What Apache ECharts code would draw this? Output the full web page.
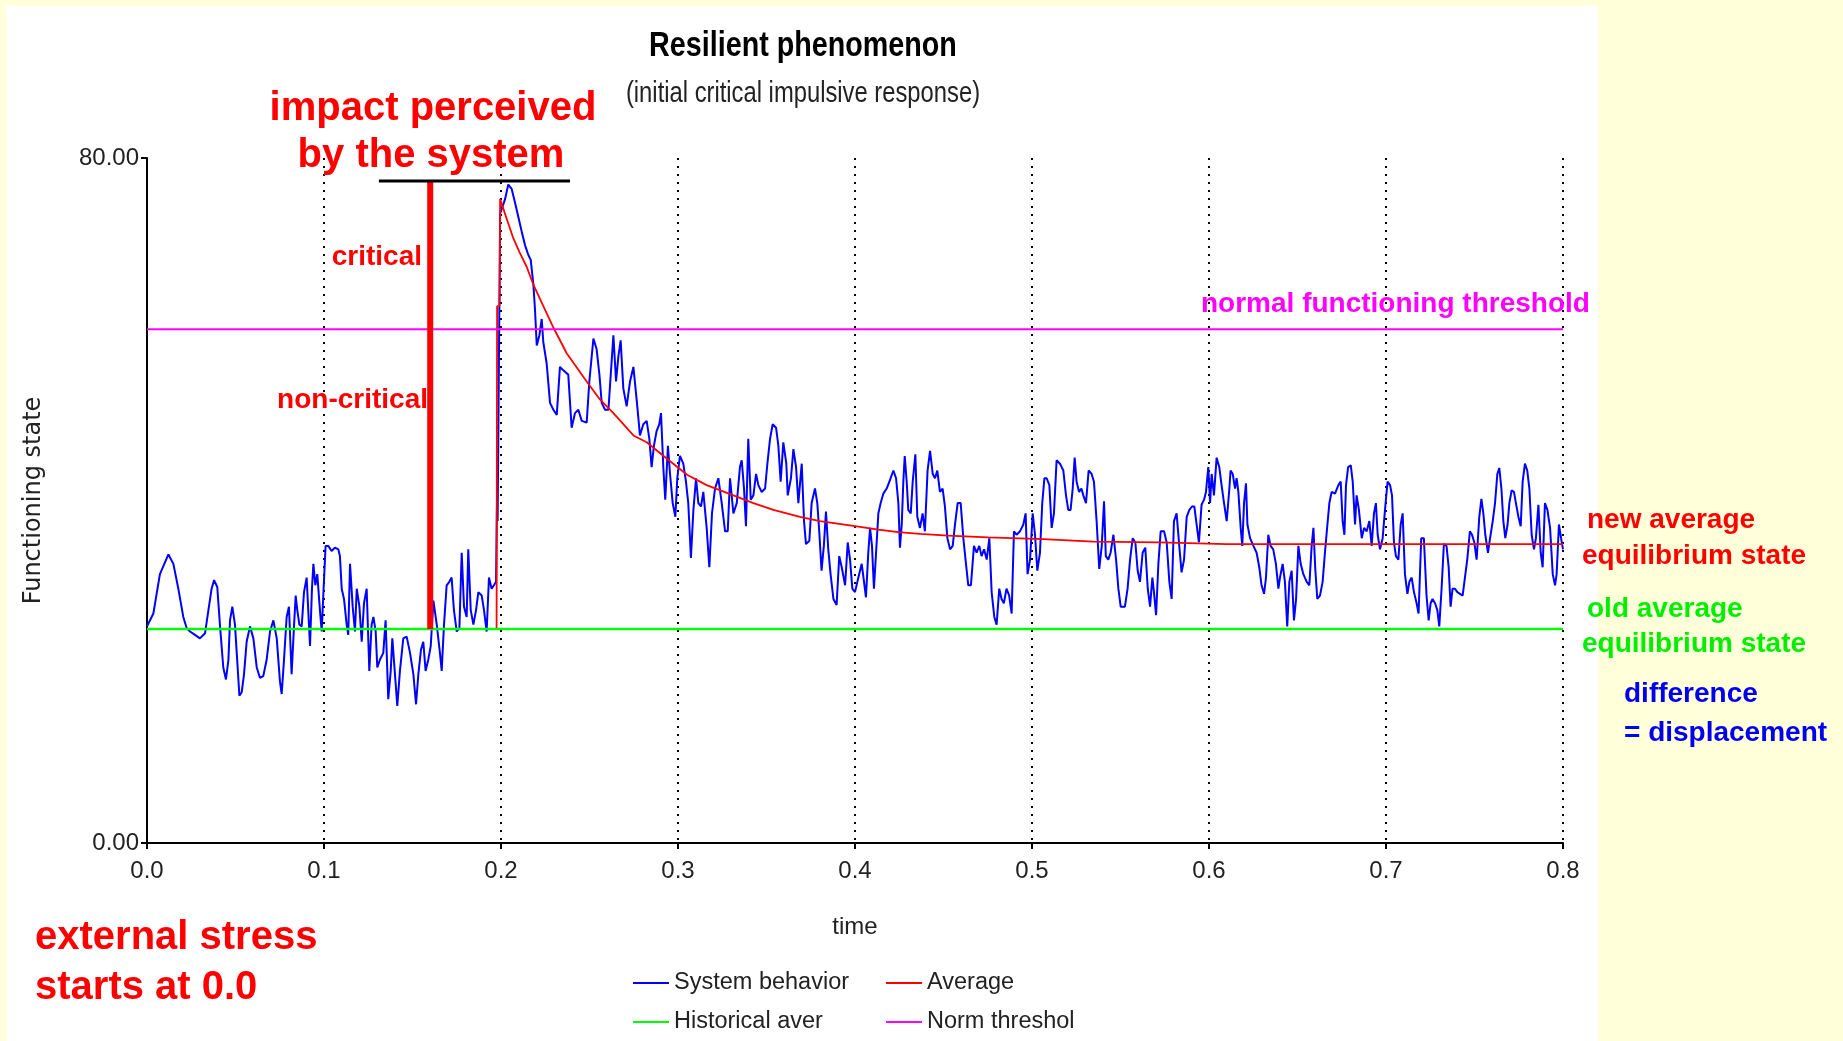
<!DOCTYPE html>
<html>
<head>
<meta charset="utf-8">
<script src="https://cdn.jsdelivr.net/npm/echarts/dist/echarts.min.js"></script>
<style>
html,body{margin:0;padding:0;background:#FFFFD9;width:1843px;height:1041px;overflow:hidden;}
#panel{position:absolute;left:6px;top:6px;width:1592px;height:1035px;background:#ffffff;}
#chart{position:absolute;left:0;top:0;width:1843px;height:1041px;}
</style>
</head>
<body>
<div id="panel"></div>
<div id="chart"></div>
<script>
// ---------- DATA ----------
const xTicks = [0, 0.1, 0.2, 0.3, 0.4, 0.5, 0.6, 0.7, 0.8];
const yTicks = [0, 80];

// System behavior: [time, functioning state]
const systemBehavior = [
[0.000,25.3],[0.0036,26.8],[0.0073,31.4],[0.0121,33.7],[0.0149,32.6],[0.0177,29.7],[0.0205,26.4],[0.0224,25.1],[0.0243,24.7],[0.0271,24.3],[0.0299,23.9],[0.0328,24.5],[0.0347,27.2],[0.0365,29.7],[0.0379,30.7],[0.0397,29.9],[0.0412,25.5],[0.0431,20.5],[0.0446,19.1],[0.0460,21.4],[0.0469,26.0],[0.0482,27.6],[0.0497,25.5],[0.0507,22.2],[0.0522,17.2],[0.0535,17.6],[0.0548,19.7],[0.0563,23.5],[0.0582,25.3],[0.0601,23.9],[0.0620,20.5],[0.0638,19.3],[0.0657,19.5],[0.0676,21.4],[0.0695,24.7],[0.0714,26.0],[0.0733,23.9],[0.0751,18.9],[0.0761,17.4],[0.0774,21.4],[0.0789,26.4],[0.0802,27.6],[0.0817,19.7],[0.0831,25.5],[0.0840,28.9],[0.0849,27.2],[0.0861,25.5],[0.0874,25.3],[0.0887,29.3],[0.0902,31.0],[0.0911,27.2],[0.0921,23.0],[0.0932,29.7],[0.0940,32.6],[0.0951,30.1],[0.0962,31.4],[0.0977,27.2],[0.0987,24.7],[0.0996,28.9],[0.1009,34.7],[0.1024,34.7],[0.1043,34.1],[0.1062,34.5],[0.1081,34.3],[0.1090,33.5],[0.1100,29.7],[0.1113,28.5],[0.1128,25.5],[0.1137,24.3],[0.1147,32.6],[0.1162,27.6],[0.1175,24.7],[0.1185,29.7],[0.1200,27.6],[0.1213,23.5],[0.1226,28.0],[0.1241,29.7],[0.1256,20.1],[0.1269,25.5],[0.1279,26.4],[0.1292,24.7],[0.1301,20.5],[0.1316,21.4],[0.1335,22.2],[0.1348,26.0],[0.1363,16.8],[0.1377,20.1],[0.1386,23.9],[0.1401,19.7],[0.1414,16.0],[0.1429,20.1],[0.1448,23.9],[0.1467,24.1],[0.1486,22.2],[0.1505,19.7],[0.1520,16.2],[0.1533,19.7],[0.1548,22.6],[0.1561,23.5],[0.1574,20.1],[0.1589,21.4],[0.1603,23.0],[0.1618,28.3],[0.1637,25.5],[0.1655,22.2],[0.1665,20.1],[0.1678,25.5],[0.1693,30.1],[0.1708,30.5],[0.1721,31.0],[0.1734,27.2],[0.1750,24.7],[0.1765,25.1],[0.1778,33.9],[0.1791,27.6],[0.1806,26.4],[0.1815,34.3],[0.1829,27.2],[0.1844,25.5],[0.1859,27.2],[0.1872,29.3],[0.1891,28.9],[0.1904,27.2],[0.1919,24.7],[0.1932,31.0],[0.1947,29.7],[0.1960,30.1],[0.1972,30.5],[0.1978,41.4],[0.1981,37.6],[0.1995,73.5],
[0.2004,73.7],[0.2023,75.2],[0.2041,76.9],[0.2060,76.4],[0.2079,74.8],[0.2098,73.1],[0.2117,71.4],[0.2136,69.8],[0.2154,68.7],[0.2168,68.1],[0.2183,65.2],[0.2192,62.3],[0.2202,58.1],[0.2217,59.3],[0.2230,61.2],[0.2239,58.5],[0.2258,56.0],[0.2277,51.4],[0.2296,50.6],[0.2315,50.0],[0.2333,55.6],[0.2352,55.2],[0.2380,54.7],[0.2399,48.5],[0.2418,50.2],[0.2437,50.6],[0.2456,49.3],[0.2484,49.1],[0.2499,53.9],[0.2522,58.9],[0.2540,57.7],[0.2556,54.7],[0.2569,51.4],[0.2588,50.6],[0.2607,50.6],[0.2620,54.7],[0.2635,59.3],[0.2650,53.9],[0.2663,56.8],[0.2676,58.7],[0.2691,53.1],[0.2710,51.0],[0.2729,53.9],[0.2748,55.6],[0.2757,55.8],[0.2770,51.0],[0.2785,47.6],[0.2804,48.9],[0.2823,49.3],[0.2838,47.2],[0.2851,43.9],[0.2864,46.4],[0.2879,48.1],[0.2894,48.9],[0.2904,50.2],[0.2917,43.9],[0.2928,40.1],[0.2943,46.4],[0.2955,43.1],[0.2970,39.7],[0.2985,38.1],[0.2996,42.6],[0.3011,45.2],[0.3030,44.3],[0.3045,42.2],[0.3058,39.7],[0.3073,33.3],[0.3087,38.9],[0.3102,42.6],[0.3115,39.7],[0.3130,39.3],[0.3143,41.0],[0.3162,36.8],[0.3177,32.2],[0.3192,38.5],[0.3209,41.4],[0.3228,42.6],[0.3247,39.7],[0.3266,36.4],[0.3281,36.4],[0.3294,42.6],[0.3313,38.5],[0.3332,39.7],[0.3350,43.9],[0.3360,44.7],[0.3373,41.4],[0.3384,37.0],[0.3397,47.2],[0.3411,40.1],[0.3426,40.6],[0.3441,43.1],[0.3454,41.8],[0.3473,41.0],[0.3492,41.4],[0.3505,44.3],[0.3520,47.2],[0.3535,48.9],[0.3554,48.5],[0.3567,46.4],[0.3580,42.2],[0.3595,46.8],[0.3612,44.3],[0.3620,40.6],[0.3638,42.6],[0.3652,46.0],[0.3667,43.9],[0.3680,39.7],[0.3699,44.3],[0.3712,37.6],[0.3723,34.9],[0.3742,35.3],[0.3755,39.7],[0.3774,41.4],[0.3787,39.7],[0.3798,36.4],[0.3811,31.8],[0.3824,34.7],[0.3836,38.7],[0.3849,34.3],[0.3862,31.4],[0.3878,28.5],[0.3896,27.8],[0.3911,33.5],[0.3925,32.2],[0.3944,30.1],[0.3959,35.1],[0.3972,33.1],[0.3985,29.7],[0.4000,29.3],[0.4019,31.0],[0.4038,32.6],[0.4051,30.5],[0.4062,28.7],
[0.4075,33.9],[0.4085,36.8],[0.4096,34.7],[0.4107,29.7],[0.4119,33.9],[0.4132,38.5],[0.4145,39.7],[0.4160,40.8],[0.4179,41.4],[0.4198,42.4],[0.4217,43.5],[0.4232,42.6],[0.4245,39.7],[0.4254,34.5],[0.4264,37.2],[0.4273,42.2],[0.4281,45.2],[0.4292,42.2],[0.4301,38.9],[0.4315,38.5],[0.4326,42.2],[0.4341,45.4],[0.4352,38.1],[0.4367,36.8],[0.4382,38.5],[0.4395,36.4],[0.4410,43.5],[0.4424,45.8],[0.4439,43.1],[0.4452,42.6],[0.4465,43.5],[0.4480,41.0],[0.4495,41.4],[0.4508,39.3],[0.4522,35.6],[0.4537,34.3],[0.4552,34.7],[0.4565,37.2],[0.4580,39.7],[0.4597,39.7],[0.4612,35.6],[0.4627,32.6],[0.4640,30.1],[0.4655,30.1],[0.4672,34.7],[0.4687,33.9],[0.4702,34.7],[0.4715,33.5],[0.4729,34.3],[0.4744,33.1],[0.4759,35.6],[0.4772,29.3],[0.4787,26.4],[0.4800,25.5],[0.4815,29.7],[0.4828,28.5],[0.4841,28.0],[0.4856,29.7],[0.4871,28.9],[0.4885,26.8],[0.4898,36.4],[0.4913,36.0],[0.4932,36.4],[0.4951,37.2],[0.4964,38.5],[0.4975,31.4],[0.4989,33.1],[0.5004,38.5],[0.5017,36.0],[0.5030,31.8],[0.5045,33.9],[0.5058,39.7],[0.5070,42.6],[0.5083,42.6],[0.5098,41.8],[0.5111,36.8],[0.5124,38.5],[0.5139,44.7],[0.5158,44.3],[0.5177,43.5],[0.5192,40.6],[0.5205,38.9],[0.5218,38.9],[0.5230,41.4],[0.5241,45.0],[0.5252,42.2],[0.5266,41.0],[0.5279,41.4],[0.5290,40.6],[0.5305,39.7],[0.5320,43.5],[0.5337,43.1],[0.5350,42.2],[0.5365,37.6],[0.5380,32.0],[0.5394,34.7],[0.5407,39.9],[0.5417,33.5],[0.5431,33.1],[0.5444,33.9],[0.5460,36.0],[0.5475,33.1],[0.5488,29.7],[0.5501,27.6],[0.5525,27.6],[0.5540,29.7],[0.5554,33.1],[0.5569,35.6],[0.5584,35.1],[0.5597,31.8],[0.5610,30.5],[0.5625,33.9],[0.5640,34.5],[0.5654,29.7],[0.5667,27.6],[0.5680,31.0],[0.5689,29.3],[0.5701,26.6],[0.5714,32.6],[0.5727,36.4],[0.5746,36.4],[0.5761,35.1],[0.5776,30.5],[0.5789,28.5],[0.5802,37.6],[0.5817,38.5],[0.5832,34.7],[0.5845,31.6],[0.5859,33.1],[0.5874,38.1],[0.5889,38.9],[0.5904,39.3],[0.5917,39.3],[0.5930,37.2],[0.5943,35.1],[0.5958,39.5],[0.5972,40.1],[0.5983,41.0],[0.5996,43.9],[0.6006,39.7],[0.6015,43.1],[0.6028,40.6],[0.6043,45.0],[0.6058,43.9],[0.6071,41.8],[0.6085,39.7],[0.6100,37.6],[0.6115,41.4],
[0.6122,43.5],[0.6134,43.1],[0.6147,41.4],[0.6156,42.6],[0.6166,41.0],[0.6179,36.8],[0.6188,34.7],[0.6198,39.7],[0.6209,42.0],[0.6217,37.2],[0.6232,35.6],[0.6251,34.7],[0.6269,33.9],[0.6284,32.2],[0.6297,30.1],[0.6311,29.1],[0.6322,31.0],[0.6335,36.0],[0.6348,34.7],[0.6363,34.3],[0.6378,32.6],[0.6392,29.7],[0.6401,31.0],[0.6416,32.6],[0.6429,30.5],[0.6442,25.3],[0.6454,30.5],[0.6467,31.8],[0.6480,26.0],[0.6492,28.5],[0.6505,34.7],[0.6518,32.6],[0.6533,31.4],[0.6552,30.5],[0.6567,30.1],[0.6580,34.7],[0.6590,36.8],[0.6601,31.8],[0.6612,28.5],[0.6627,28.9],[0.6642,30.5],[0.6655,33.9],[0.6669,37.2],[0.6680,39.7],[0.6693,41.0],[0.6712,40.8],[0.6731,41.8],[0.6744,42.2],[0.6755,37.6],[0.6765,36.0],[0.6774,41.8],[0.6786,43.9],[0.6801,44.1],[0.6812,42.2],[0.6825,37.2],[0.6834,40.6],[0.6847,38.9],[0.6863,35.6],[0.6876,36.8],[0.6891,36.4],[0.6906,37.6],[0.6919,34.7],[0.6932,38.5],[0.6943,39.7],[0.6953,36.0],[0.6966,34.3],[0.6981,35.6],[0.6996,39.3],[0.7009,42.2],[0.7023,41.8],[0.7034,40.6],[0.7045,35.1],[0.7056,33.5],[0.7070,33.1],[0.7083,37.2],[0.7094,38.5],[0.7107,31.4],[0.7121,29.1],[0.7132,30.5],[0.7145,31.0],[0.7158,29.3],[0.7173,28.0],[0.7184,26.8],[0.7199,35.6],[0.7214,35.6],[0.7229,28.9],[0.7241,26.0],[0.7252,28.0],[0.7263,28.5],[0.7277,28.0],[0.7290,27.2],[0.7301,25.3],[0.7314,29.7],[0.7327,34.9],[0.7342,34.7],[0.7354,32.2],[0.7365,27.6],[0.7376,29.7],[0.7390,29.7],[0.7403,29.3],[0.7418,29.1],[0.7433,28.9],[0.7446,31.0],[0.7459,33.1],[0.7474,36.4],[0.7486,36.0],[0.7499,35.1],[0.7512,33.1],[0.7527,38.1],[0.7539,40.2],[0.7550,38.5],[0.7561,36.0],[0.7576,33.9],[0.7588,35.6],[0.7603,37.6],[0.7616,39.7],[0.7629,43.1],[0.7640,43.8],[0.7652,41.4],[0.7663,37.6],[0.7674,35.6],[0.7687,37.2],[0.7697,39.7],[0.7710,41.2],[0.7723,41.0],[0.7734,39.7],[0.7748,38.1],[0.7761,37.0],[0.7772,42.2],[0.7785,44.3],[0.7798,43.5],[0.7810,41.4],[0.7823,36.0],[0.7836,34.3],[0.7847,35.6],[0.7861,39.5],[0.7874,33.9],[0.7885,32.2],[0.7898,39.7],[0.7912,38.9],[0.7927,36.8],[0.7942,31.4],[0.7955,30.1],[0.7964,31.4],[0.7977,37.2],[0.7989,35.6],[0.8000,34.3]
];

// Average (moving average of the response)
const averageState = [
[0,25],[0.1975,25],[0.1978,62.7],[0.1992,62.7],[0.1995,75.2],[0.2004,75.0],[0.2032,72.9],[0.2070,70.6],[0.2107,68.9],[0.2145,67.3],[0.2183,65.2],[0.2230,63.1],[0.2296,60.2],[0.2371,57.2],[0.2484,53.9],[0.2559,51.8],[0.2635,50.2],[0.2748,47.6],[0.2823,46.8],[0.2936,44.9],[0.3051,43.0],[0.3162,41.8],[0.3313,40.6],[0.3426,39.7],[0.3539,38.9],[0.3689,38.1],[0.3802,37.6],[0.4000,37.0],[0.4132,36.6],[0.4245,36.3],[0.4367,36.1],[0.4527,35.9],[0.4753,35.7],[0.5064,35.5],[0.5347,35.2],[0.5720,35.1],[0.6100,34.9],[0.8000,34.9]
];

const historicalAverage = [[0, 25], [0.8, 25]];
const normThreshold = [[0, 60], [0.8, 60]];

// annotation marks (in data units)
const impactLine = [[0.16, 25], [0.16, 77.3]];
const impactBar = [[0.131, 77.3], [0.239, 77.3]];

// ---------- CHART ----------
const SANS = "'Liberation Sans',Arial,sans-serif";

function txt(x, y, text, color, size, align, weight, scaleX) {
  return {
    type: 'text', x: x, y: y, z: 100, scaleX: scaleX || 1,
    style: {
      text: text, fill: color,
      font: (weight || 'bold') + ' ' + size + 'px ' + SANS,
      align: align || 'left', verticalAlign: 'middle',
      textAlign: align || 'left', textVerticalAlign: 'middle'
    }
  };
}

const chart = echarts.init(document.getElementById('chart'), null, {renderer: 'canvas'});

const legendCommon = {
  icon: 'rect', itemWidth: 36, itemHeight: 2, padding: 0, selectedMode: false,
  textStyle: {fontFamily: SANS, fontSize: 23.5, color: '#222', lineHeight: 30}
};

const option = {
  animation: false,
  backgroundColor: 'transparent',
  grid: {left: 147, right: 280, top: 158, bottom: 198},
  legend: [
    Object.assign({data: ['System behavior'], left: 633, top: 968}, legendCommon),
    Object.assign({data: ['Average'], left: 886, top: 968}, legendCommon),
    Object.assign({data: ['Historical aver'], left: 633, top: 1007}, legendCommon),
    Object.assign({data: ['Norm threshol'], left: 886, top: 1007}, legendCommon)
  ],
  xAxis: {
    type: 'value', min: xTicks[0], max: xTicks[xTicks.length - 1], interval: 0.1,
    name: 'time', nameLocation: 'middle', nameGap: 72,
    nameTextStyle: {fontFamily: SANS, fontSize: 24, color: '#222'},
    axisLine: {lineStyle: {color: '#000', width: 2}},
    axisTick: {length: 6, lineStyle: {color: '#000', width: 2}},
    axisLabel: {fontFamily: SANS, fontSize: 24, color: '#222', margin: 16,
      formatter: function (v) { return v.toFixed(1); }},
    splitLine: {show: true, lineStyle: {color: '#000', width: 2, type: [2, 6]}}
  },
  yAxis: {
    type: 'value', min: yTicks[0], max: yTicks[1], interval: 80,
    name: 'Functioning state', nameLocation: 'middle', nameGap: 101,
    nameTextStyle: {fontFamily: "'DejaVu Sans',sans-serif", fontSize: 24, color: '#222'},
    axisLine: {show: true, lineStyle: {color: '#000', width: 2}},
    axisTick: {show: true, length: 6, lineStyle: {color: '#000', width: 2}},
    axisLabel: {fontFamily: SANS, fontSize: 24, color: '#222', margin: 8,
      formatter: function (v) { return v.toFixed(2); }},
    splitLine: {show: false}
  },
  series: [
    {name: 'System behavior', type: 'line', data: systemBehavior, symbol: 'none', color: '#0000FF',
      lineStyle: {color: '#0000FF', width: 2}, z: 3},
    {name: 'Average', type: 'line', data: averageState, symbol: 'none', color: '#FF0000',
      lineStyle: {color: '#FF0000', width: 1.8}, z: 4},
    {name: 'Historical aver', type: 'line', data: historicalAverage, symbol: 'none', color: '#00FF00',
      lineStyle: {color: '#00FF00', width: 2.5}, z: 5},
    {name: 'Norm threshol', type: 'line', data: normThreshold, symbol: 'none', color: '#FF00FF',
      lineStyle: {color: '#FF00FF', width: 2}, z: 5},
    {name: 'impact', type: 'line', data: impactLine, symbol: 'none', color: '#FF0000',
      lineStyle: {color: '#FF0000', width: 6}, z: 6},
    {name: 'impact bar', type: 'line', data: impactBar, symbol: 'none', color: '#000',
      lineStyle: {color: '#000', width: 3}, z: 6}
  ],
  graphic: [
    txt(803, 46, 'Resilient phenomenon', '#000', 35, 'center', 'bold', 0.82),
    txt(803, 94, '(initial critical impulsive response)', '#222', 29, 'center', 'normal', 0.82),
    txt(433, 109, 'impact perceived', '#FF0000', 40, 'center'),
    txt(431, 156, 'by the system', '#FF0000', 40, 'center'),
    txt(422, 257, 'critical', '#FF0000', 28, 'right'),
    txt(428, 400, 'non-critical', '#FF0000', 28, 'right'),
    txt(1201, 304, 'normal functioning threshold', '#FF00FF', 28, 'left'),
    txt(1587, 520, 'new average', '#FF0000', 28, 'left'),
    txt(1582, 556, 'equilibrium state', '#FF0000', 28, 'left'),
    txt(1587, 609, 'old average', '#00EE00', 28, 'left'),
    txt(1582, 644, 'equilibrium state', '#00EE00', 28, 'left'),
    txt(1624, 694, 'difference', '#0000EE', 28, 'left'),
    txt(1624, 733, '= displacement', '#0000EE', 28, 'left'),
    txt(35, 938, 'external stress', '#FF0000', 40, 'left'),
    txt(35, 988, 'starts at 0.0', '#FF0000', 40, 'left')
  ]
};
chart.setOption(option);
</script>
</body>
</html>
